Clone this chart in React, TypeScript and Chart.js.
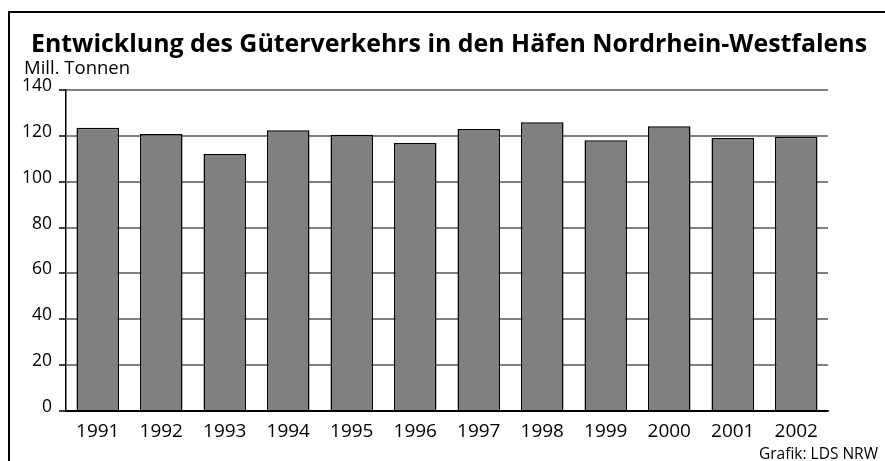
import React, { useEffect, useRef } from "react";
import { Chart, registerables } from "chart.js";

Chart.register(...registerables);

const categories = ["1991", "1992", "1993", "1994", "1995", "1996", "1997", "1998", "1999", "2000", "2001", "2002"];
const values = [123.5, 120.8, 112.1, 122.4, 120.5, 116.9, 123.0, 125.9, 118.1, 124.2, 119.1, 119.6];
const yMin = 0;
const yMax = 140;
const yStep = 20;

const titleText = "Entwicklung des Güterverkehrs in den Häfen Nordrhein-Westfalens";
const unitText = "Mill. Tonnen";
const sourceText = "Grafik: LDS NRW";

const FONT = "'Open Sans', 'DejaVu Sans', sans-serif";

export default function App() {
  const ref = useRef<HTMLCanvasElement | null>(null);

  useEffect(() => {
    if (!ref.current) return;
    const chart = new Chart(ref.current, {
      type: "bar",
      data: {
        labels: categories,
        datasets: [
          {
            data: values,
            backgroundColor: "#808080",
            borderColor: "#000",
            borderWidth: 1.5,
            barPercentage: 0.67,
            categoryPercentage: 1,
          },
        ],
      },
      options: {
        responsive: false,
        animation: false,
        layout: { padding: { top: 90, right: 57, left: 0, bottom: 0 } },
        plugins: { legend: { display: false }, tooltip: { enabled: false }, title: { display: false } },
        scales: {
          x: {
            offset: true,
            grid: { display: false },
            border: { display: true, color: "#000", width: 1.5 },
            ticks: { color: "#000", font: { family: FONT, size: 19 }, padding: 1, maxRotation: 0 },
            afterFit: (axis: any) => {
              axis.height = 50;
            },
          },
          y: {
            min: yMin,
            max: yMax,
            grid: {
              color: (ctx: any) => (ctx.tick && ctx.tick.value === 0 ? "#000" : "#808080"),
              lineWidth: 2,
              tickColor: "#000",
              tickLength: 7,
              tickWidth: 1.5,
            },
            border: { display: true, color: "#000", width: 1.5 },
            ticks: {
              stepSize: yStep,
              color: "#000",
              font: { family: FONT, size: 17.5 },
              padding: 7,
              labelOffset: -4,
            },
            afterFit: (axis: any) => {
              axis.width = 66;
            },
          },
        },
      },
    });
    return () => chart.destroy();
  }, []);

  return (
    <div style={{ position: "fixed", left: 0, top: 0, width: 885, height: 461, overflow: "hidden", background: "#fff" }}>
      <div
        style={{
          position: "absolute",
          left: 8,
          top: 11,
          width: 885,
          height: 470,
          borderLeft: "2px solid #000",
          borderTop: "2px solid #000",
        }}
      />
      <canvas ref={ref} width={885} height={461} style={{ position: "absolute", left: 0, top: 0 }} />
      <div
        style={{
          position: "absolute",
          left: 31,
          top: 29.5,
          fontFamily: FONT,
          fontWeight: 700,
          fontSize: 24.9,
          lineHeight: 1,
          whiteSpace: "nowrap",
          color: "#000",
        }}
      >
        {titleText}
      </div>
      <div
        style={{
          position: "absolute",
          left: 24,
          top: 58,
          fontFamily: FONT,
          fontSize: 18.5,
          lineHeight: 1,
          whiteSpace: "nowrap",
          color: "#000",
        }}
      >
        {unitText}
      </div>
      <div
        style={{
          position: "absolute",
          right: 7,
          top: 446,
          fontFamily: FONT,
          fontSize: 15.5,
          lineHeight: 1,
          whiteSpace: "nowrap",
          color: "#000",
        }}
      >
        {sourceText}
      </div>
    </div>
  );
}
